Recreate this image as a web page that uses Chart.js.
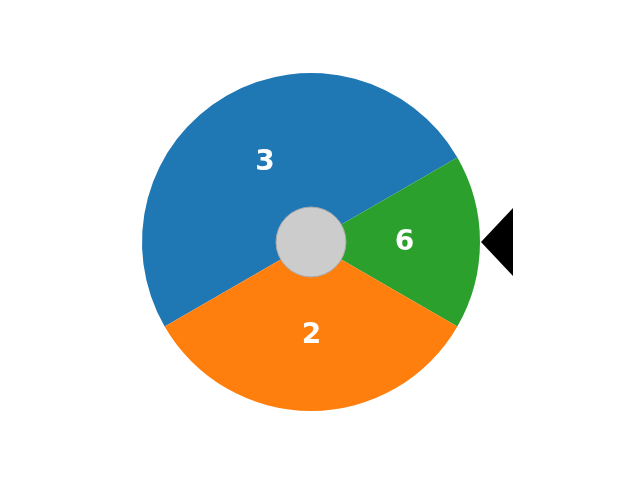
<!DOCTYPE html>
<html>
<head>
<meta charset="utf-8">
<script src="https://cdn.jsdelivr.net/npm/chart.js@4.4.1/dist/chart.umd.min.js"></script>
<style>
html,body{margin:0;padding:0;background:#fff;}
#wrap{width:640px;height:480px;position:relative;}
</style>
</head>
<body>
<div id="wrap"><canvas id="c"></canvas></div>
<script>
// Wheel segments (clockwise from lower-left), weights and printed labels
const categories = ["3", "6", "2"];
const weights = [3, 1, 2];
const colors = ["#1f77b4", "#2ca02c", "#ff7f0e"];

const wheelPlugin = {
  id: 'wheel',
  afterDatasetsDraw(chart) {
    const ctx = chart.ctx;
    const meta = chart.getDatasetMeta(0);
    const arc0 = meta.data[0];
    const cx = arc0.x, cy = arc0.y, R = arc0.outerRadius;
    ctx.save();
    // labels
    ctx.fillStyle = '#ffffff';
    ctx.font = 'bold 28px "DejaVu Sans"';
    ctx.textAlign = 'center';
    ctx.textBaseline = 'middle';
    meta.data.forEach((arc, i) => {
      const mid = (arc.startAngle + arc.endAngle) / 2;
      const r = R * 0.55;
      ctx.fillText(categories[i], cx + r * Math.cos(mid) + 0.5, cy + r * Math.sin(mid) + 1);
    });
    // center hub
    ctx.beginPath();
    ctx.arc(cx, cy, R * 0.207, 0, Math.PI * 2);
    ctx.fillStyle = '#cccccc';
    ctx.fill();
    ctx.lineWidth = 1;
    ctx.strokeStyle = '#aaaaaa';
    ctx.stroke();
    // pointer
    ctx.beginPath();
    ctx.moveTo(cx + R + 1, cy);
    ctx.lineTo(cx + R + 33, cy - 34);
    ctx.lineTo(cx + R + 33, cy + 34);
    ctx.closePath();
    ctx.fillStyle = '#000000';
    ctx.fill();
    ctx.restore();
  }
};

new Chart(document.getElementById('c'), {
  type: 'pie',
  data: {
    labels: categories,
    datasets: [{
      data: weights,
      backgroundColor: colors,
      borderWidth: 0,
      hoverOffset: 0
    }]
  },
  options: {
    responsive: true,
    maintainAspectRatio: false,
    animation: false,
    devicePixelRatio: 1,
    rotation: 240,
    layout: { padding: { left: 142, right: 160, top: 73, bottom: 69 } },
    plugins: {
      legend: { display: false },
      tooltip: { enabled: false }
    }
  },
  plugins: [wheelPlugin]
});
</script>
</body>
</html>
